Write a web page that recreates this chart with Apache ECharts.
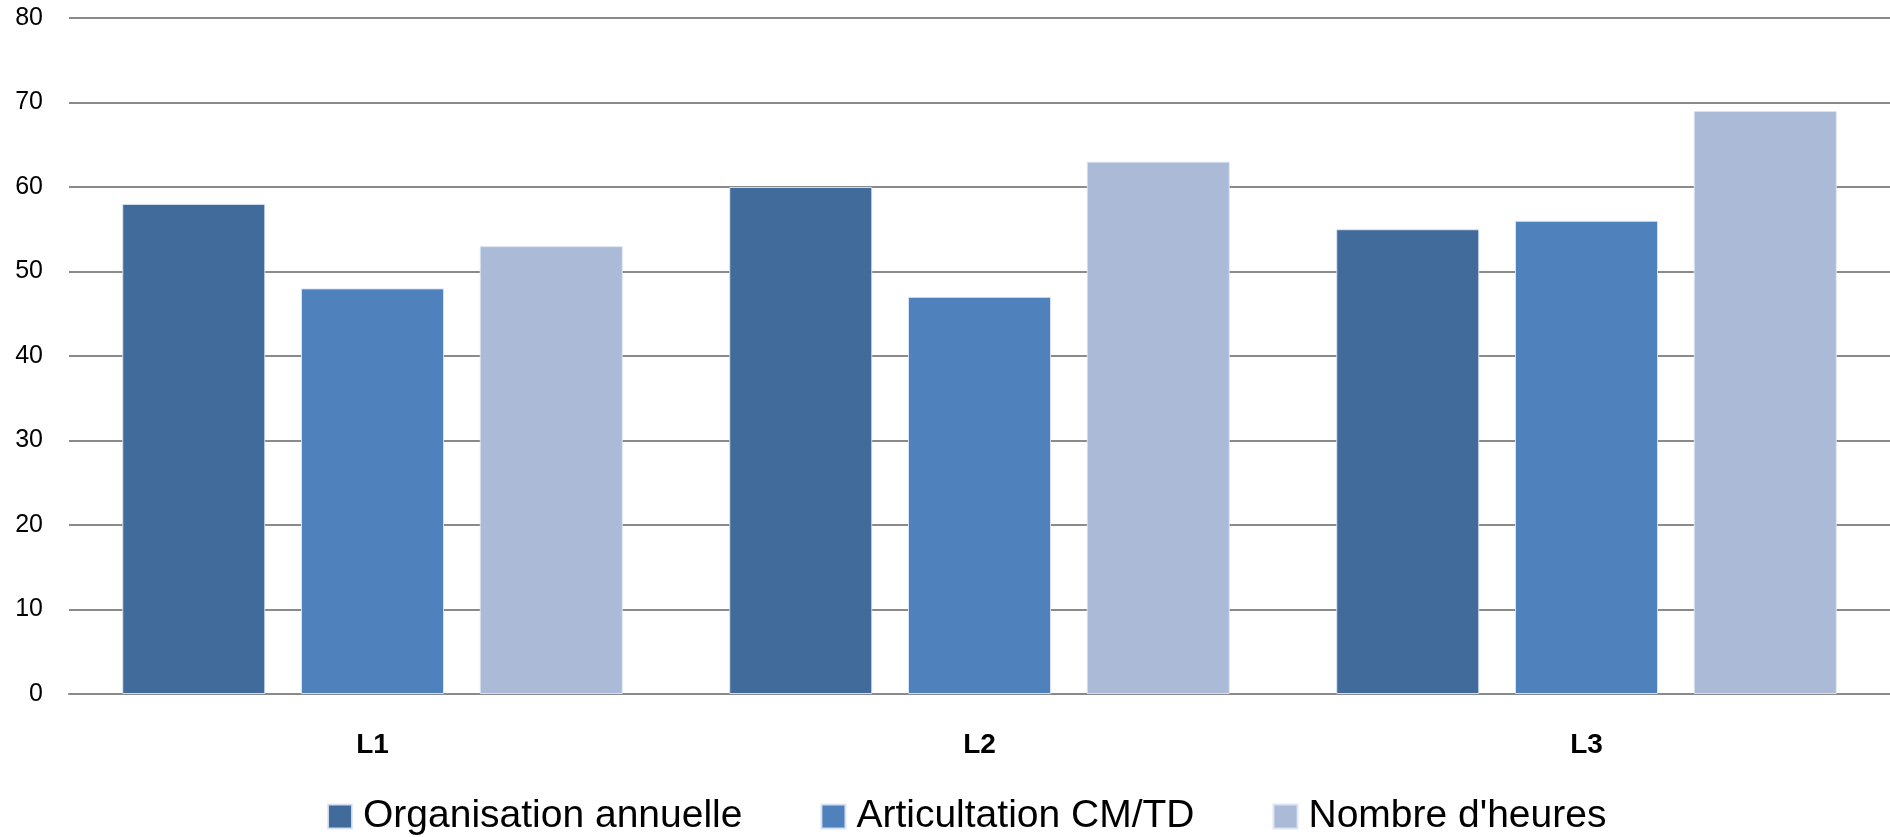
<!DOCTYPE html>
<html>
<head>
<meta charset="utf-8">
<script src="https://cdn.jsdelivr.net/npm/echarts@6/dist/echarts.min.js"></script>
<style>html,body{margin:0;padding:0;background:#fff;}#c{width:1890px;height:837px;}</style>
</head>
<body>
<div id="c"></div>
<script>
const categories = ['L1', 'L2', 'L3'];
const seriesNames = ['Organisation annuelle', 'Articultation CM/TD', "Nombre d'heures"];
const organisation = [58, 60, 55];
const articulation = [48, 47, 56];
const heures = [53, 63, 69];
const colors = ['#406B9B', '#4F81BD', '#AABAD7'];

const chart = echarts.init(document.getElementById('c'));
const values = [organisation, articulation, heures];
chart.setOption({
  animation: false,
  backgroundColor: '#fff',
  grid: { left: 69, right: 0, top: 18, bottom: 143, containLabel: false },
  legend: {
    top: 792,
    left: 322,
    itemWidth: 24,
    itemHeight: 24,
    itemGap: 78,
    icon: 'rect',
    textStyle: { fontFamily: 'Liberation Sans', fontSize: 39, color: '#000', padding: [0, 0, 0, 6] },
    data: seriesNames
  },
  xAxis: {
    type: 'category',
    data: categories,
    axisLine: { lineStyle: { color: '#8a8a8a', width: 2 } },
    axisTick: { show: false },
    axisLabel: { fontFamily: 'Liberation Sans', fontWeight: 'bold', fontSize: 28, color: '#000', margin: 37 }
  },
  yAxis: {
    type: 'value',
    min: 0, max: 80, interval: 10,
    axisLine: { show: false },
    axisTick: { show: false },
    splitLine: { lineStyle: { color: '#8a8a8a', width: 2 } },
    axisLabel: { fontFamily: 'Liberation Sans', fontSize: 25, color: '#000', margin: 26 }
  },
  series: seriesNames.map((n, i) => ({
    name: n,
    type: 'bar',
    data: values[i],
    barWidth: 143,
    barGap: '25%',
    itemStyle: { color: colors[i], borderColor: 'rgba(220,230,245,0.9)', borderWidth: 1 }
  }))
});
</script>
</body>
</html>
